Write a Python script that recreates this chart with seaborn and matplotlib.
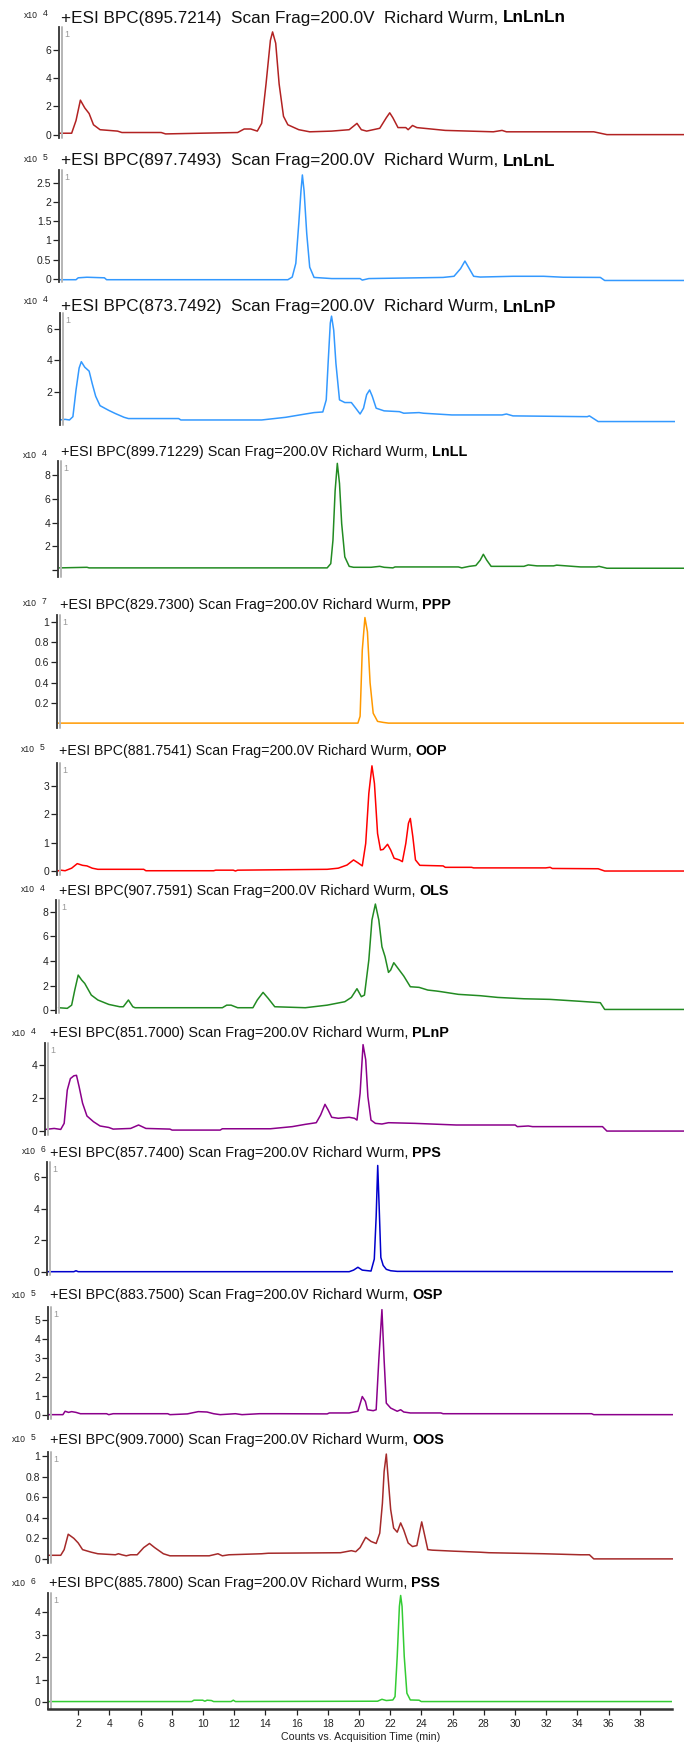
import matplotlib
matplotlib.use('Agg')
import matplotlib.pyplot as plt
import matplotlib.transforms as mtransforms
from matplotlib import font_manager
import seaborn as sns

# ---- data (time in min, counts in units of 10^exp) ----
names = ['LnLnLn', 'LnLnL', 'LnLnP', 'LnLL', 'PPP', 'OOP', 'OLS', 'PLnP', 'PPS', 'OSP', 'OOS', 'PSS']
masses = ['895.7214', '897.7493', '873.7492', '899.71229', '829.7300', '881.7541',
          '907.7591', '851.7000', '857.7400', '883.7500', '909.7000', '885.7800']
exponents = [4, 5, 4, 4, 7, 5, 4, 4, 6, 5, 5, 6]

lnlnln_t = [0.8, 1.58, 1.86, 2.14, 2.42, 2.7, 2.98, 3.4, 4.52, 4.8, 7.32, 7.6, 9.84, 12.22, 12.64, 13.06,
            13.48, 13.76, 14.04, 14.32, 14.46, 14.66, 14.88, 15.16, 15.44, 16.14, 16.84, 18.25, 19.37, 19.65,
            19.87, 20.15, 20.49, 21.33, 21.75, 21.97, 22.17, 22.5, 23.0, 23.15, 23.43, 23.71, 25.53, 28.61,
            29.17, 29.45, 35.05, 35.89, 41]
lnlnln_v = [0.1, 0.1, 1.0, 2.45, 1.9, 1.5, 0.7, 0.35, 0.25, 0.15, 0.15, 0.05, 0.1, 0.15, 0.4, 0.4,
            0.25, 0.8, 3.6, 6.7, 7.3, 6.5, 3.6, 1.3, 0.7, 0.35, 0.2, 0.25, 0.35, 0.6,
            0.8, 0.35, 0.25, 0.45, 1.2, 1.55, 1.2, 0.5, 0.5, 0.35, 0.65, 0.5, 0.3, 0.2,
            0.3, 0.2, 0.2, 0.0, 0.0]

lnlnl_t = [0.8, 1.86, 2.0, 2.56, 3.68, 3.82, 15.44, 15.72, 15.95, 16.14, 16.28, 16.37, 16.48, 16.65,
           16.84, 17.12, 18.25, 20.07, 20.21, 20.63, 25.39, 26.09, 26.51, 26.79, 27.07, 27.35, 27.77,
           29.87, 30.57, 31.83, 33.09, 35.47, 35.75, 41]
lnlnl_v = [-0.03, -0.03, 0.02, 0.035, 0.02, -0.03, -0.03, 0.04, 0.4, 1.45, 2.3, 2.72, 2.3, 1.18,
           0.3, 0.03, 0.0, 0.0, -0.04, 0.0, 0.03, 0.06, 0.26, 0.46, 0.26, 0.06, 0.04,
           0.06, 0.06, 0.06, 0.035, 0.03, -0.05, -0.05]

lnlnp_t = [0.8, 1.16, 1.44, 1.66, 1.86, 2.06, 2.2, 2.42, 2.7, 2.9, 3.12, 3.4, 3.96, 4.38, 4.94, 5.22,
           8.44, 8.58, 13.76, 15.3, 16.56, 17.12, 17.68, 17.9, 18.02, 18.16, 18.24, 18.38, 18.52, 18.75,
           19.09, 19.51, 19.79, 20.07, 20.29, 20.49, 20.68, 20.85, 21.1, 21.61, 22.59, 22.87, 23.85,
           24.13, 25.95, 29.17, 29.45, 29.87, 34.63, 34.77, 35.33, 41]
lnlnp_v = [0.19, 0.23, 0.19, 0.4, 2.1, 3.5, 3.9, 3.55, 3.3, 2.5, 1.7, 1.1, 0.8, 0.6, 0.36, 0.28,
           0.28, 0.19, 0.19, 0.36, 0.57, 0.66, 0.7, 1.47, 3.8, 6.36, 6.8, 5.9, 3.8, 1.47,
           1.3, 1.3, 0.94, 0.57, 0.94, 1.8, 2.1, 1.7, 0.94, 0.77, 0.72, 0.62, 0.66,
           0.62, 0.51, 0.51, 0.57, 0.45, 0.4, 0.45, 0.09, 0.09]

lnll_t = [0.8, 2.56, 2.7, 17.96, 18.19, 18.33, 18.47, 18.61, 18.75, 18.89, 19.09, 19.37, 19.65, 20.77,
          21.33, 21.61, 22.17, 22.31, 26.37, 26.59, 27.07, 27.49, 27.77, 27.97, 28.19, 28.47, 30.57,
          30.85, 31.41, 32.47, 32.67, 34.21, 35.19, 35.39, 35.89, 41]
lnll_v = [0.17, 0.22, 0.17, 0.17, 0.53, 2.5, 6.7, 9.0, 7.3, 3.9, 1.1, 0.3, 0.22, 0.22,
          0.3, 0.22, 0.17, 0.25, 0.25, 0.17, 0.3, 0.37, 0.82, 1.32, 0.82, 0.3, 0.3,
          0.42, 0.34, 0.34, 0.4, 0.25, 0.25, 0.3, 0.14, 0.14]

ppp_t = [0.7, 19.93, 20.07, 20.21, 20.38, 20.54, 20.71, 20.91, 21.19, 21.55, 21.89, 41]
ppp_v = [0.003, 0.003, 0.07, 0.72, 1.04, 0.9, 0.4, 0.1, 0.02, 0.01, 0.003, 0.003]

oop_t = [0.66, 0.88, 1.16, 1.58, 1.94, 2.28, 2.56, 2.9, 3.26, 6.2, 6.34, 10.68, 10.82, 11.94, 12.08,
         12.22, 17.96, 18.67, 19.23, 19.65, 19.93, 20.21, 20.43, 20.63, 20.83, 20.99, 21.19, 21.38,
         21.55, 21.83, 22.03, 22.25, 22.59, 22.78, 23.0, 23.17, 23.29, 23.45, 23.62, 23.9, 25.39,
         25.53, 27.21, 27.35, 31.97, 32.25, 32.39, 35.33, 35.75, 41]
oop_v = [0.0, 0.03, 0.01, 0.1, 0.26, 0.2, 0.18, 0.1, 0.06, 0.06, 0.01, 0.01, 0.03, 0.03, 0.0,
         0.03, 0.06, 0.1, 0.21, 0.39, 0.29, 0.18, 0.97, 2.73, 3.7, 3.08, 1.32, 0.74,
         0.76, 0.94, 0.74, 0.45, 0.39, 0.33, 0.97, 1.68, 1.85, 1.21, 0.39, 0.2, 0.18,
         0.13, 0.13, 0.11, 0.11, 0.13, 0.09, 0.08, 0.0, 0.0]

ols_t = [0.74, 1.3, 1.58, 1.78, 2.0, 2.22, 2.42, 2.84, 3.26, 3.96, 4.66, 4.89, 5.22, 5.5, 5.64, 11.24,
         11.52, 11.8, 12.22, 13.2, 13.48, 13.85, 14.18, 14.6, 16.56, 17.96, 19.09, 19.51, 19.87, 20.15,
         20.35, 20.63, 20.83, 21.05, 21.27, 21.47, 21.67, 21.89, 22.03, 22.23, 22.5, 22.87, 23.29,
         23.85, 24.41, 24.97, 25.25, 26.37, 27.77, 28.89, 30.57, 32.25, 34.21, 35.47, 35.75, 41]
ols_v = [0.19, 0.14, 0.4, 1.63, 2.85, 2.45, 2.17, 1.22, 0.82, 0.46, 0.27, 0.27, 0.82, 0.27, 0.19, 0.19,
         0.4, 0.4, 0.19, 0.19, 0.82, 1.44, 0.95, 0.27, 0.19, 0.4, 0.68, 1.03, 1.74, 1.09,
         1.22, 4.08, 7.34, 8.64, 7.34, 5.16, 4.35, 3.07, 3.26, 3.86, 3.4, 2.77, 1.9,
         1.85, 1.63, 1.55, 1.5, 1.28, 1.17, 1.03, 0.92, 0.87, 0.71, 0.6, 0.05, 0.05]

plnp_t = [-0.1, 0.46, 0.88, 1.1, 1.3, 1.5, 1.72, 1.89, 2.06, 2.28, 2.56, 2.98, 3.4, 3.96, 4.24, 5.36,
          5.87, 6.34, 7.88, 8.02, 11.1, 11.24, 14.32, 15.72, 16.56, 17.26, 17.54, 17.82, 18.02, 18.25,
          18.67, 19.37, 19.71, 19.87, 20.07, 20.26, 20.43, 20.57, 20.77, 21.05, 21.47, 21.89, 23.57,
          26.23, 30.01, 30.15, 30.85, 31.13, 35.61, 35.89, 41]
plnp_v = [0.1, 0.16, 0.1, 0.47, 2.5, 3.2, 3.37, 3.4, 2.7, 1.7, 0.92, 0.57, 0.31, 0.22, 0.12, 0.16,
          0.37, 0.16, 0.12, 0.06, 0.06, 0.14, 0.14, 0.27, 0.41, 0.51, 0.98, 1.63, 1.29, 0.84,
          0.78, 0.84, 0.78, 0.67, 2.3, 5.27, 4.35, 2.1, 0.67, 0.47, 0.43, 0.51, 0.47,
          0.37, 0.37, 0.27, 0.31, 0.27, 0.27, 0.0, 0.0]

pps_t = [0.0, 1.72, 1.86, 2.0, 19.37, 19.65, 19.93, 20.21, 20.77, 20.98, 21.1, 21.2, 21.3, 21.4,
         21.55, 21.75, 22.03, 22.45, 41]
pps_v = [0.0, 0.0, 0.06, 0.0, 0.0, 0.1, 0.28, 0.1, 0.04, 0.8, 3.5, 6.74, 3.9, 0.9,
         0.4, 0.15, 0.06, 0.02, 0.0]

osp_t = [0.0, 1.02, 1.16, 1.38, 1.58, 1.86, 2.14, 3.82, 3.96, 4.24, 7.74, 7.88, 9.0, 9.28, 9.7, 10.26,
         10.68, 11.1, 12.08, 12.5, 13.62, 14.88, 17.96, 18.1, 19.37, 19.93, 20.21, 20.41, 20.54, 20.91,
         21.1, 21.27, 21.47, 21.61, 21.75, 22.03, 22.45, 22.67, 22.87, 23.29, 25.25, 25.39, 25.81,
         34.91, 35.05, 41]
osp_v = [0.0, 0.0, 0.18, 0.12, 0.16, 0.12, 0.05, 0.05, 0.0, 0.05, 0.05, 0.0, 0.04, 0.09, 0.16, 0.14,
         0.05, 0.0, 0.05, 0.0, 0.05, 0.05, 0.04, 0.09, 0.09, 0.18, 0.96, 0.7, 0.26, 0.21,
         0.26, 2.9, 5.56, 2.9, 0.61, 0.35, 0.18, 0.26, 0.14, 0.09, 0.09, 0.05, 0.05,
         0.05, 0.0, 0.0]

oos_t = [0.0, 0.88, 1.1, 1.36, 1.72, 2.0, 2.28, 2.84, 3.26, 4.38, 4.58, 4.8, 5.08, 5.36, 5.78, 6.2,
         6.57, 6.9, 7.46, 7.88, 10.4, 10.96, 11.24, 11.66, 13.76, 14.18, 18.81, 19.51, 19.79, 20.07,
         20.43, 20.77, 21.1, 21.33, 21.5, 21.61, 21.75, 21.83, 22.03, 22.22, 22.45, 22.67, 22.87,
         23.15, 23.43, 23.71, 23.91, 24.02, 24.18, 24.41, 24.69, 26.09, 27.77, 28.33, 31.83, 34.21,
         34.77, 35.05, 41]
oos_v = [0.035, 0.035, 0.09, 0.24, 0.2, 0.155, 0.09, 0.065, 0.05, 0.04, 0.05, 0.04, 0.03, 0.04, 0.04, 0.11,
         0.15, 0.11, 0.05, 0.03, 0.03, 0.05, 0.03, 0.04, 0.05, 0.055, 0.06, 0.08, 0.07, 0.11,
         0.21, 0.17, 0.15, 0.25, 0.54, 0.85, 1.02, 0.86, 0.48, 0.3, 0.26, 0.35, 0.28,
         0.155, 0.12, 0.13, 0.28, 0.36, 0.25, 0.09, 0.085, 0.075, 0.065, 0.06, 0.05, 0.04,
         0.04, 0.0, 0.0]

pss_t = [0.0, 9.28, 9.42, 9.98, 10.12, 10.26, 10.54, 10.68, 11.8, 11.94, 12.08, 21.19, 21.47, 21.75,
         22.17, 22.31, 22.45, 22.59, 22.67, 22.76, 22.9, 23.07, 23.29, 23.85, 23.99, 41]
pss_v = [0.03, 0.03, 0.09, 0.09, 0.045, 0.09, 0.075, 0.03, 0.03, 0.09, 0.03, 0.045, 0.13, 0.075,
         0.1, 0.25, 2.03, 4.25, 4.73, 4.25, 2.03, 0.4, 0.1, 0.09, 0.03, 0.03]

times = [lnlnln_t, lnlnl_t, lnlnp_t, lnll_t, ppp_t, oop_t, ols_t, plnp_t, pps_t, osp_t, oos_t, pss_t]
counts = [lnlnln_v, lnlnl_v, lnlnp_v, lnll_v, ppp_v, oop_v, ols_v, plnp_v, pps_v, osp_v, oos_v, pss_v]

ytick_vals = [[0, 2, 4, 6], [0, 0.5, 1, 1.5, 2, 2.5], [2, 4, 6], [0, 2, 4, 6, 8], [0.2, 0.4, 0.6, 0.8, 1],
              [0, 1, 2, 3], [0, 2, 4, 6, 8], [0, 2, 4], [0, 2, 4, 6], [0, 1, 2, 3, 4, 5],
              [0, 0.2, 0.4, 0.6, 0.8, 1], [0, 1, 2, 3, 4]]
ytick_text = [['0', '2', '4', '6'], ['0', '0.5', '1', '1.5', '2', '2.5'], ['2', '4', '6'],
              ['', '2', '4', '6', '8'], ['0.2', '0.4', '0.6', '0.8', '1'], ['0', '1', '2', '3'],
              ['0', '2', '4', '6', '8'], ['0', '2', '4'], ['0', '2', '4', '6'],
              ['0', '1', '2', '3', '4', '5'], ['0', '0.2', '0.4', '0.6', '0.8', '1'],
              ['0', '1', '2', '3', '4']]
xticks = list(range(2, 40, 2))

# ---- styling / layout (pixels of a 685x1753 figure) ----
COLORS = ['#B22222', '#3399FF', '#3399FF', '#228B22', '#FF9900', '#FF0000',
          '#228B22', '#8B008B', '#0000CC', '#8B008B', '#A52A2A', '#33CC33']
# left, top, bottom, right of each plot area
BOXES = [(59, 27, 138, 684), (59, 170, 282, 684), (60, 313, 425, 675), (58, 461, 577, 684),
         (57, 615, 728, 684), (57, 763, 875, 684), (56, 900, 1013, 684), (45, 1043, 1135, 684),
         (47, 1162, 1275, 673), (48, 1307, 1419, 673), (48, 1452, 1563, 673), (48, 1593, 1709, 672)]
YLIMS = [(-0.24, 7.65), (-0.09, 2.85), (-0.13, 7.0), (-0.6, 9.2), (-0.045, 1.065), (-0.14, 3.8),
         (-0.24, 8.97), (-0.24, 5.37), (-0.21, 6.96), (-0.23, 5.7), (-0.04, 1.04), (-0.3, 4.84)]
# title: x start, x end, y centre
TITLES = [(61, 566, 18), (61, 556, 161), (61, 557, 307), (61, 465, 452), (60, 452, 605), (59, 450, 751),
          (59, 450, 891), (50, 452, 1033), (50, 440, 1153), (50, 442, 1295), (50, 444, 1440), (49, 440, 1583)]
EXPPOS = [(24, 16), (24, 159), (24, 302), (23, 456), (23, 603), (21, 750), (21, 890), (12, 1033),
          (22, 1152), (12, 1295), (12, 1440), (12, 1583)]
W, H = 685, 1753
X0, PXMIN = 47, 15.6   # pixel of t=0 and pixels per minute

sns.set_style('ticks')
plt.rcParams['font.family'] = ['Liberation Sans', 'DejaVu Sans']


def has_font(name):
    try:
        font_manager.findfont(font_manager.FontProperties(family=name), fallback_to_default=False)
        return True
    except ValueError:
        return False


NARROW = ['Liberation Sans Narrow', 'Liberation Sans'] if has_font('Liberation Sans Narrow') else ['Liberation Sans']

fig = plt.figure(figsize=(W / 100, H / 100), dpi=100)
renderer = fig.canvas.get_renderer()


def fit_text(x0, x1, yc, normal, bold, family, color='#111111'):
    t1 = fig.text(x0 / W, 1 - yc / H, normal, fontsize=10, family=family, va='center', ha='left', color=color)
    t2 = None
    if bold:
        t2 = fig.text(x0 / W, 1 - yc / H, bold, fontsize=10, family=family, fontweight='bold',
                      va='center', ha='left', color='#000000')
    for _ in range(2):
        fs = t1.get_fontsize()
        gap = 0.28 * fs * 100 / 72 if bold else 0
        w = t1.get_window_extent(renderer).width + gap
        if t2 is not None:
            w += t2.get_window_extent(renderer).width
        fs = fs * (x1 - x0) / w
        t1.set_fontsize(fs)
        if t2 is not None:
            t2.set_fontsize(fs)
    if t2 is not None:
        gap = 0.28 * fs * 100 / 72
        t2.set_x((x0 + t1.get_window_extent(renderer).width + gap) / W)


for i in range(len(names)):
    left, top, bottom, right = BOXES[i]
    ax = fig.add_axes([left / W, 1 - bottom / H, (right - left) / W, (bottom - top) / H])
    ax.patch.set_alpha(0)
    sns.lineplot(x=times[i], y=counts[i], ax=ax, color=COLORS[i], linewidth=1.1,
                 estimator=None, sort=False)
    ax.set_xlim((left - X0) / PXMIN, (right - X0) / PXMIN)
    ax.set_ylim(*YLIMS[i])
    ax.set_yticks(ytick_vals[i])
    ax.set_yticklabels(ytick_text[i])
    ax.tick_params(axis='y', length=4, width=0.9, pad=1.5, labelsize=7.5, colors='#222222')
    ax.set_xlabel('')
    ax.set_ylabel('')
    for s in ['top', 'right']:
        ax.spines[s].set_visible(False)
    ax.spines['left'].set_color('#333333')
    ax.spines['left'].set_linewidth(1.3)
    # grey companion line next to the y axis
    tr = mtransforms.offset_copy(ax.transAxes, fig=fig, x=3, y=0, units='dots')
    ax.plot([0, 0], [0, 1], transform=tr, color='#b5b5b5', lw=1.4, clip_on=False)
    ax.text(5, -4, '1', transform=mtransforms.offset_copy(ax.transAxes, fig=fig, x=5, y=-4, units='dots'),
            fontsize=6.5, color='#999999', va='top', ha='left') if False else \
        ax.text(0, 1, '1', transform=mtransforms.offset_copy(ax.transAxes, fig=fig, x=5, y=-3, units='dots'),
                fontsize=6.5, color='#999999', va='top', ha='left')
    if i < len(names) - 1:
        ax.spines['bottom'].set_visible(False)
        ax.set_xticks([])
    else:
        ax.spines['bottom'].set_color('#333333')
        ax.spines['bottom'].set_linewidth(1.8)
        ax.set_xticks(xticks)
        ax.set_xticklabels([str(x) for x in xticks])
        ax.tick_params(axis='x', length=4, width=0.9, pad=3, labelsize=7.5, colors='#222222')

    # titles
    x0, x1, yc = TITLES[i]
    if i < 3:
        normal = '+ESI BPC(%s)  Scan Frag=200.0V  Richard Wurm,' % masses[i]
        fam = ['Liberation Sans']
    else:
        normal = '+ESI BPC(%s) Scan Frag=200.0V Richard Wurm,' % masses[i]
        fam = NARROW
    fit_text(x0, x1, yc, normal, names[i], fam)

    ex, ey = EXPPOS[i]
    fig.text(ex / W, 1 - ey / H, 'x10', fontsize=6.2, color='#222222', va='center', ha='left')
    fig.text((ex + 19) / W, 1 - (ey - 2) / H, str(exponents[i]), fontsize=6.2, color='#222222',
             va='center', ha='left')

fit_text(281, 439, 1737, 'Counts vs. Acquisition Time (min)', None, NARROW, color='#222222')

fig.savefig('out.png', dpi=100, facecolor='white')
